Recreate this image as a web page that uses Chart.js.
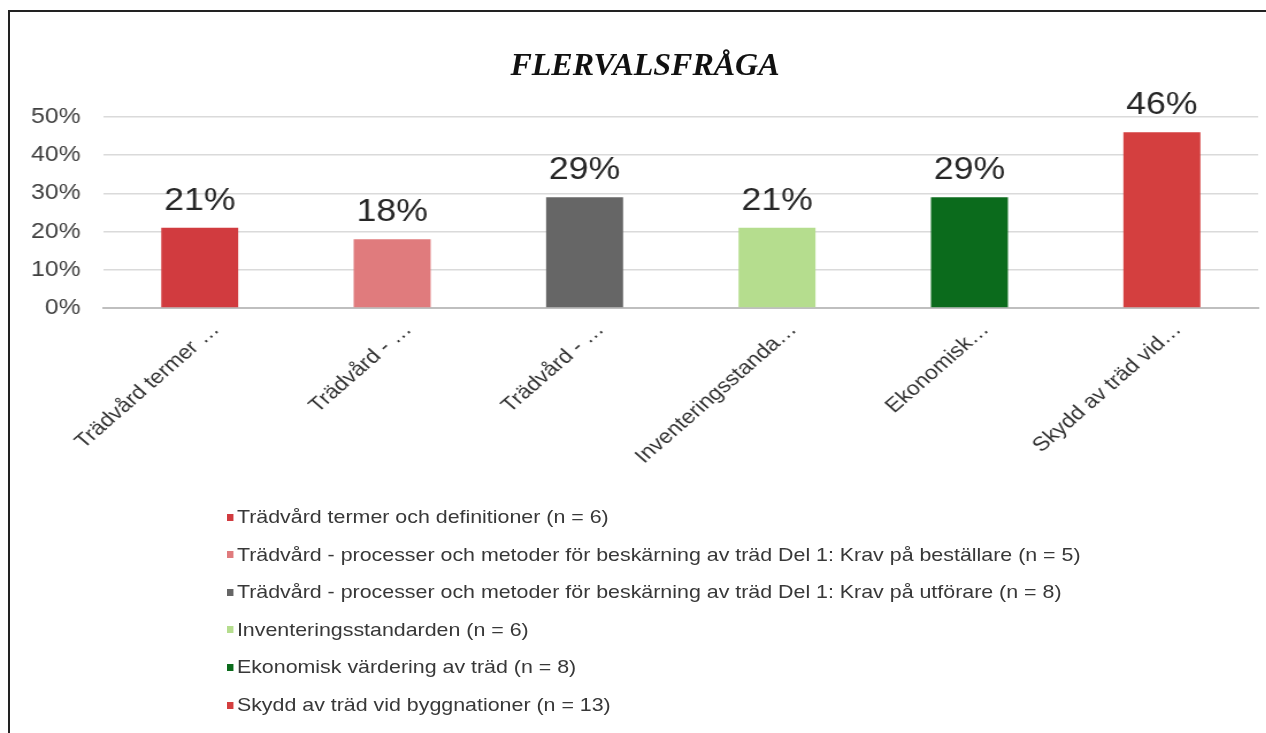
<!DOCTYPE html>
<html>
<head>
<meta charset="utf-8">
<script src="https://cdn.jsdelivr.net/npm/chart.js@4/dist/chart.umd.min.js"></script>
<style>
  html, body { margin:0; padding:0; background:#fff; }
  #page { position:relative; width:1266px; height:733px; overflow:hidden; background:#fff; }
  /* the source picture is stretched sideways, so the chart is drawn narrower and widened */
  #stage { position:absolute; left:0; top:0; width:1101px; height:733px; transform:scaleX(1.15); transform-origin:0 0; }
  #chart-wrap { position:absolute; left:0; top:0; width:1101px; height:733px; }
  #frame-top { position:absolute; left:8px; top:10px; width:1258px; height:2px; background:#222; }
  #frame-left { position:absolute; left:8px; top:10px; width:2px; height:723px; background:#222; }
  #title { position:absolute; left:0; width:1290px; top:48px; text-align:center; font-family:"Liberation Serif", serif; font-weight:bold; font-style:italic; font-size:32px; line-height:32px; color:#111; }
  #legend { position:absolute; left:197px; top:498px; font-family:"Liberation Sans", Arial, sans-serif; font-size:18.6px; color:#383838; }
  .legend-row { height:37.6px; line-height:37.6px; white-space:nowrap; }
  .legend-dot { display:inline-block; width:6px; height:7px; margin-right:3px; vertical-align:middle; position:relative; top:-1px; }
</style>
</head>
<body>
<div id="page">
  <div id="stage">
    <div id="chart-wrap"><canvas id="bar"></canvas></div>
    <div id="legend"></div>
  </div>
  <div id="title">FLERVALSFRÅGA</div>
  <div id="frame-top"></div>
  <div id="frame-left"></div>
</div>
<script>
/* data */
var TICK_LABELS = ['Trädvård termer …', 'Trädvård - …', 'Trädvård - …', 'Inventeringsstanda…', 'Ekonomisk…', 'Skydd av träd vid…'];
var LEGEND_LABELS = [
  'Trädvård termer och definitioner (n = 6)',
  'Trädvård - processer och metoder för beskärning av träd Del 1: Krav på beställare (n = 5)',
  'Trädvård - processer och metoder för beskärning av träd Del 1: Krav på utförare (n = 8)',
  'Inventeringsstandarden (n = 6)',
  'Ekonomisk värdering av träd (n = 8)',
  'Skydd av träd vid byggnationer (n = 13)'
];
var VALUES = [21, 18, 29, 21, 29, 46];
var COLORS = ['#d13b3f', '#e07b7d', '#666666', '#b5dd8e', '#0b6b1c', '#d43f3f'];
var Y_TICKS = [0, 10, 20, 30, 40, 50];

/* value labels above bars */
var valueLabels = {
  id: 'valueLabels',
  afterDatasetsDraw: function(chart) {
    var ctx = chart.ctx;
    var meta = chart.getDatasetMeta(0);
    ctx.save();
    ctx.font = '31px "Liberation Sans", Arial, sans-serif';
    ctx.fillStyle = '#262626';
    ctx.textAlign = 'center';
    ctx.textBaseline = 'alphabetic';
    meta.data.forEach(function(bar, i) {
      ctx.fillText(VALUES[i] + '%', bar.x, bar.y - 18);
    });
    ctx.restore();
  }
};

new Chart(document.getElementById('bar'), {
  type: 'bar',
  data: {
    labels: TICK_LABELS,
    datasets: [{
      label: 'Andel',
      data: VALUES,
      backgroundColor: COLORS,
      borderWidth: 0,
      categoryPercentage: 1,
      barPercentage: 0.4
    }]
  },
  options: {
    responsive: true, maintainAspectRatio: false, animation: false,
    layout: { padding: { top: 117, left: 0, right: 7, bottom: 245 } },
    plugins: {
      legend: { display: false },
      tooltip: { enabled: false },
      title: { display: false }
    },
    scales: {
      x: {
        grid: { display: false },
        border: { display: true, color: '#bfbfbf', width: 2 },
        ticks: {
          color: '#333', maxRotation: 45, minRotation: 45, autoSkip: false, padding: 2, labelOffset: 14,
          font: { family: '"Liberation Sans", Arial, sans-serif', size: 20 }
        },
        afterFit: function(scale) { scale.height = 180; }
      },
      y: {
        min: 0, max: 50,
        afterBuildTicks: function(scale) { scale.ticks = Y_TICKS.map(function(v){ return { value: v }; }); },
        grid: { color: '#dadada', lineWidth: 1.5, drawTicks: false },
        border: { display: false },
        ticks: {
          color: '#404040', padding: 20,
          font: { family: '"Liberation Sans", Arial, sans-serif', size: 21.5 },
          callback: function(v) { return v + '%'; }
        },
        afterFit: function(scale) { scale.width = 90; }
      }
    }
  },
  plugins: [valueLabels]
});

/* legend */
var leg = document.getElementById('legend');
LEGEND_LABELS.forEach(function(lbl, i) {
  var row = document.createElement('div');
  row.className = 'legend-row';
  row.innerHTML = '<span class="legend-dot" style="background:' + COLORS[i] + '"></span>' + lbl;
  leg.appendChild(row);
});
</script>
</body>
</html>
